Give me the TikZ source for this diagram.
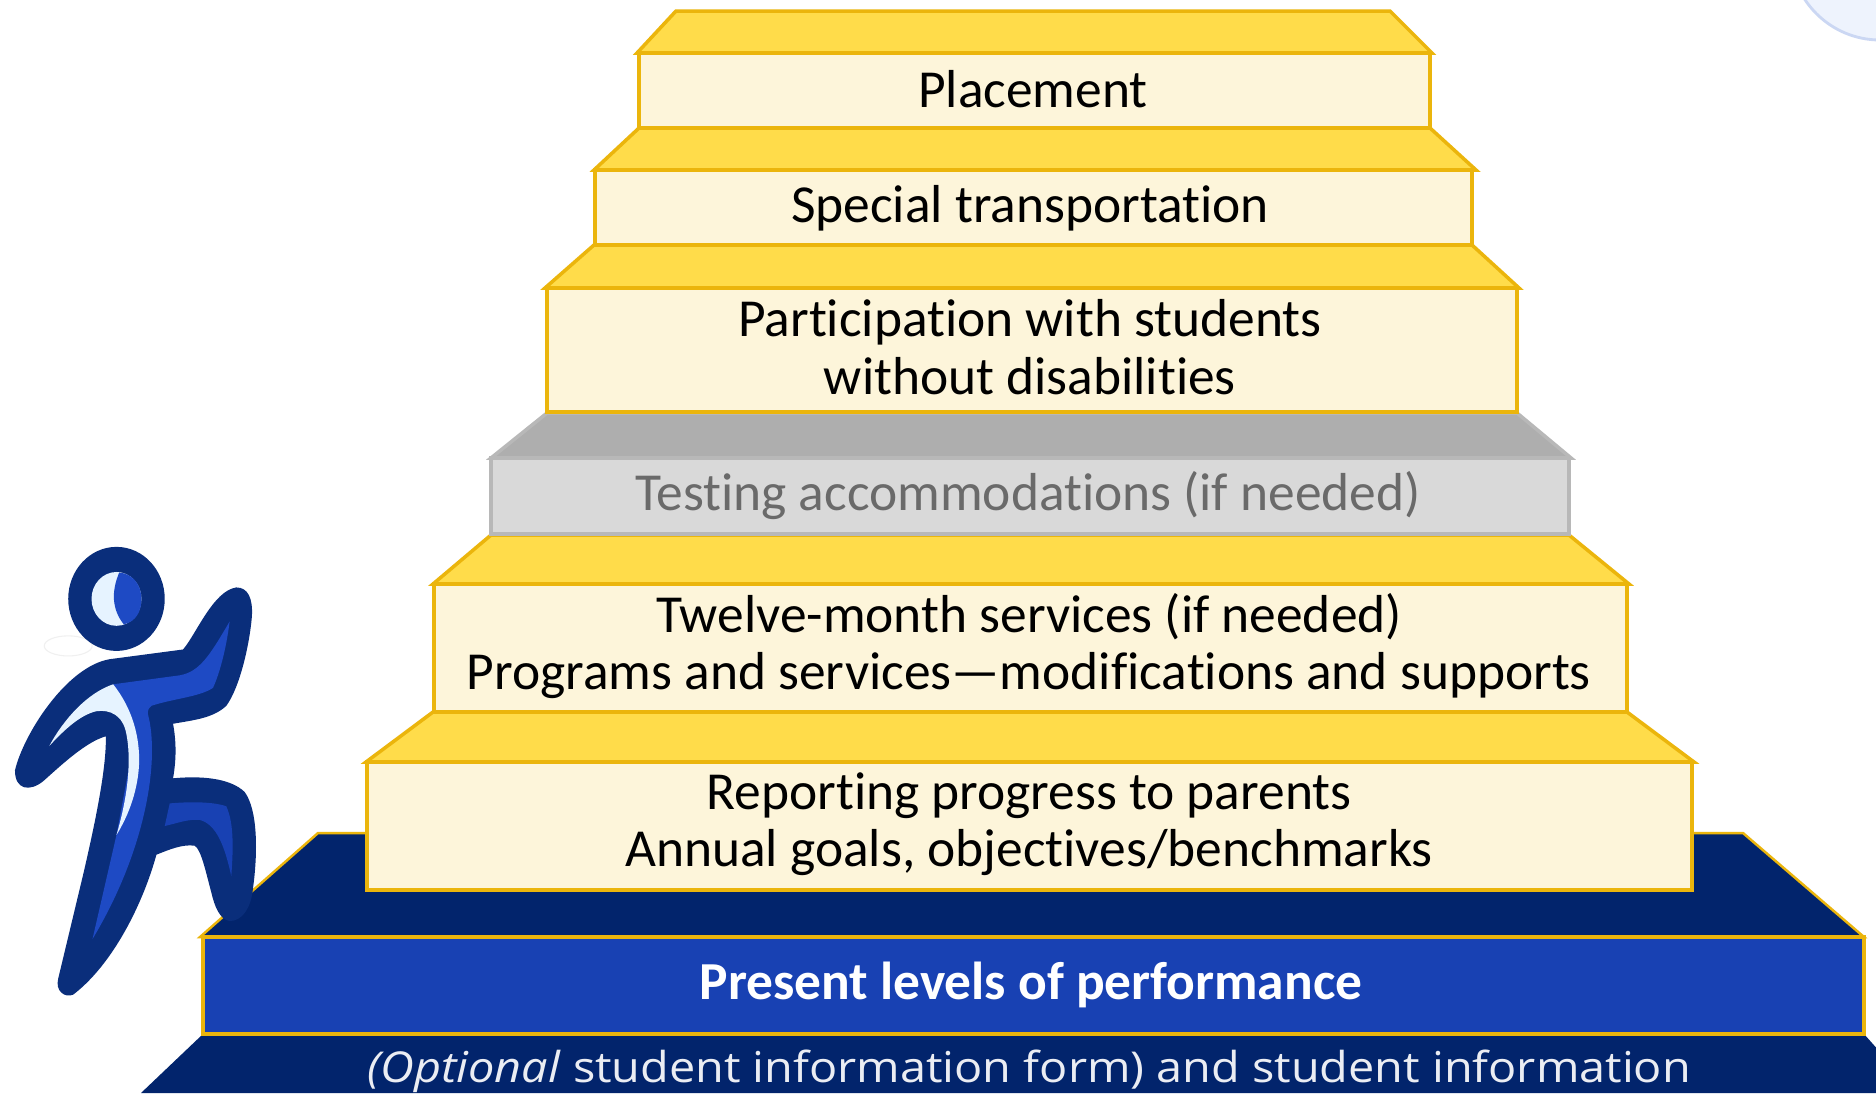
\documentclass[tikz,border=0pt]{standalone}
\usepackage{fontspec}
\setmainfont[Ligatures=NoCommon]{Carlito}
\newfontfamily\basefont[FakeStretch=1.1]{Open Sans}
\definecolor{navystep}{HTML}{02246C}
\definecolor{bluestep}{HTML}{1841B3}
\definecolor{goldline}{HTML}{EBB50C}
\definecolor{goldtop}{HTML}{FFDC4A}
\definecolor{goldface}{HTML}{FDF5DA}
\definecolor{graytop}{HTML}{AEAEAE}
\definecolor{grayface}{HTML}{D9D9D9}
\definecolor{grayline}{HTML}{B8B8B8}
\definecolor{graytext}{HTML}{6A6A6A}
\definecolor{mannavy}{HTML}{0A2E7B}
\definecolor{manblue}{HTML}{1E4AC4}
\definecolor{manlight}{HTML}{E6F3FF}
\definecolor{cornerfill}{HTML}{EEF3FD}
\definecolor{cornerline}{HTML}{CBD7F3}
\tikzset{
  steptop/.style={fill=goldtop,draw=goldline,line width=1pt,line join=miter},
  stepface/.style={fill=goldface,draw=goldline,line width=1pt},
  graytopface/.style={fill=graytop,draw=grayline,line width=1pt},
  grayboxface/.style={fill=grayface,draw=grayline,line width=1pt},
  steptext/.style={align=center,font=\fontsize{15.2}{16.3}\selectfont,inner sep=0pt},
}
\begin{document}
\begin{tikzpicture}[x=0.01cm,y=-0.01cm]
\useasboundingbox (0,0) rectangle (1876,1093);
\clip (0,0) rectangle (1876,1093);

\fill[white] (0,0) rectangle (1876,1093);
\draw[fill=cornerfill,draw=cornerline,line width=0.8pt] (1880,-50) circle (90);

% base of the stairs
\fill[navystep] (141,1093) -- (203,1034) -- (1864,1034) -- (1880,1052) -- (1880,1093) -- cycle;
\draw[fill=navystep,draw=goldline,line width=0.7pt] (200,937) -- (318,833) -- (1743,833) -- (1864,937) -- cycle;
\draw[fill=bluestep,draw=goldline,line width=1pt] (203,937) rectangle (1864,1034);

% yellow steps
\draw[steptop] (433,712) -- (366,762) -- (1694,762) -- (1627,712) -- cycle;
\draw[stepface] (367,762) rectangle (1692,890);
\draw[steptop] (491,535) -- (433,584) -- (1629,584) -- (1569,535) -- cycle;
\draw[stepface] (434,584) rectangle (1627,712);

% gray step
\draw[graytopface] (547,413) -- (491,458) -- (1571,458) -- (1517,413) -- cycle;
\draw[grayboxface] (491,458) rectangle (1569,534);

\draw[steptop] (594,245) -- (545,288) -- (1519,288) -- (1472,245) -- cycle;
\draw[stepface] (547,288) rectangle (1517,412);
\draw[steptop] (639,128) -- (594,170) -- (1476,170) -- (1430,128) -- cycle;
\draw[stepface] (595,170) rectangle (1472,245);
\draw[steptop] (676,11) -- (637,53) -- (1432,53) -- (1390,11) -- cycle;
\draw[stepface] (639,53) rectangle (1430,128);

\node[steptext] (placement) at (1033,89) {Placement};
\node[steptext] (transport) at (1030,208) {Special transportation};
\node[steptext] (participation) at (1030,347) {Participation with students\\without disabilities};
\node[steptext,text=graytext] (testing) at (1028,496) {Testing accommodations (if needed)};
\node[steptext] (twelve) at (1029,646) {Twelve-month services (if needed)\\Programs and services---modifications and supports};
\node[steptext] (reporting) at (1029,824) {Reporting progress to parents\\Annual goals, objectives/benchmarks};
\node[steptext,text=white,font=\fontsize{15.2}{16.3}\selectfont\bfseries] (present) at (1031,985) {Present levels of performance};
\node[inner sep=0pt,text=white!92!navystep,font=\basefont\fontsize{12.1}{13}\selectfont] (studentinfo) at (1029,1071) {\textit{(Optional} student information form) and student information};

% climbing figure
\begin{scope}[shift={(0,530)},x=0.00333cm,y=-0.00358cm]
\draw[black!6,line width=0.3pt] (205,323) ellipse (72 and 28);
\fill[mannavy] (350,192) circle (145);
\fill[manlight] (350,192) circle (75);
\fill[manblue] (358,119) .. controls (335,170) and (335,220) .. (372,263) .. controls (410,255) and (425,225) .. (425,192) .. controls (425,150) and (395,120) .. (358,119) -- cycle;
\fill[mannavy] (330,360) -- (550,333) .. controls (590,290) and (640,170) .. (710,160) .. controls (745,160) and (760,190) .. (757,240) .. controls (750,320) and (720,440) .. (680,490) .. controls (640,525) and (580,530) .. (520,540) .. controls (530,590) and (530,640) .. (520,692) .. controls (600,685) and (690,690) .. (735,730) .. controls (775,780) and (775,900) .. (760,1000) .. controls (755,1050) and (730,1090) .. (690,1090) .. controls (660,1085) and (645,1050) .. (635,1010) .. controls (620,960) and (605,890) .. (585,880) .. controls (550,875) and (510,890) .. (470,905) .. controls (430,1040) and (340,1210) .. (220,1295) .. controls (195,1305) and (165,1285) .. (175,1250) -- (250,960) .. controls (290,800) and (320,660) .. (318,575) .. controls (260,590) and (190,650) .. (130,700) .. controls (90,730) and (45,725) .. (45,670) .. controls (70,570) and (200,380) .. (330,360) -- cycle;
\fill[manblue] (340,430) -- (540,405) .. controls (600,395) and (630,350) .. (690,255) .. controls (680,330) and (660,400) .. (640,440) .. controls (600,465) and (520,470) .. (455,490) .. controls (440,500) and (445,515) .. (445,515) .. controls (480,640) and (440,890) .. (278,1140) -- (350,850) -- (400,600) -- cycle;
\fill[manlight] (340,430) .. controls (400,500) and (420,580) .. (418,650) .. controls (415,720) and (390,790) .. (350,850) .. controls (385,740) and (395,640) .. (380,570) .. controls (370,515) and (330,500) .. (290,505) .. controls (240,515) and (190,560) .. (148,602) .. controls (190,530) and (260,455) .. (340,430) -- cycle;
\fill[bluestep] (510,762) .. controls (570,757) and (640,757) .. (680,770) .. controls (705,820) and (700,900) .. (695,965) .. controls (675,880) and (650,820) .. (600,808) .. controls (565,805) and (530,818) .. (495,825) -- cycle;
\end{scope}
\end{tikzpicture}
\end{document}
